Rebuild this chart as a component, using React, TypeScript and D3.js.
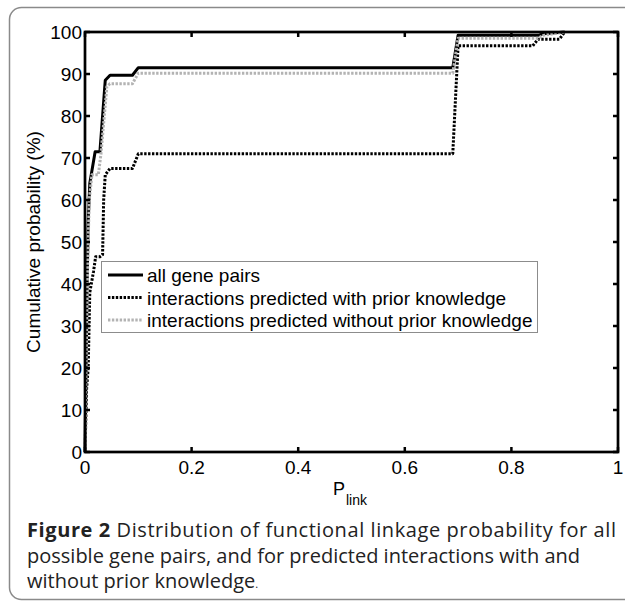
import React from 'react';
import * as d3 from 'd3';

// P_link values and cumulative probability (%)
const allPairsP = [0, 0.002, 0.004, 0.006, 0.009, 0.019, 0.028, 0.038, 0.047, 0.089, 0.1, 0.69, 0.70, 0.85, 0.86, 0.9];
const allPairsCum = [0, 20, 40, 55, 64, 71.5, 71.5, 88.5, 89.7, 89.7, 91.5, 91.5, 99.2, 99.2, 99.6, 100];

const withPriorP = [0, 0.003, 0.006, 0.009, 0.016, 0.02, 0.028, 0.033, 0.035, 0.038, 0.047, 0.089, 0.1, 0.69, 0.70, 0.84, 0.85, 0.89, 0.9];
const withPriorCum = [0, 15, 20, 38, 43, 46.5, 46.5, 47, 60, 66, 67.5, 67.5, 71, 71, 96.7, 96.7, 98.3, 98.3, 100];

const withoutPriorP = [0, 0.002, 0.005, 0.008, 0.013, 0.025, 0.03, 0.041, 0.047, 0.089, 0.1, 0.69, 0.70, 0.85, 0.86, 0.9];
const withoutPriorCum = [0, 20, 45, 60, 66, 66, 71, 87, 87.7, 87.7, 90.2, 90.2, 98.5, 98.5, 99.2, 100];

const seriesNames = ['all gene pairs', 'interactions predicted with prior knowledge', 'interactions predicted without prior knowledge'];
const xTicks = [0, 0.2, 0.4, 0.6, 0.8, 1];
const yTicks = [0, 10, 20, 30, 40, 50, 60, 70, 80, 90, 100];

export default function App() {
    const container = React.useRef<SVGGElement>(null);

    const width = 625;
    const height = 602;
    const left = 85, right = 618, top = 32, bottom = 452;

    React.useEffect(() => {
        if (!container.current) return;
        const g = d3.select(container.current);
        g.selectAll('*').remove();

        const x = d3.scaleLinear().domain([0, 1]).range([left, right]);
        const y = d3.scaleLinear().domain([0, 100]).range([bottom, top]);

        const styles = [
            { color: '#000', dash: null },
            { color: '#000', dash: '2.4 1.5' },
            { color: '#b3b3b3', dash: '2.4 1.5' },
        ];
        const series = [
            d3.zip(allPairsP, allPairsCum),
            d3.zip(withPriorP, withPriorCum),
            d3.zip(withoutPriorP, withoutPriorCum),
        ];

        const line = d3.line<number[]>()
            .x(d => x(d[0]))
            .y(d => y(d[1]));

        series.forEach((s, i) => {
            g.append('path')
                .attr('d', line(s))
                .attr('fill', 'none')
                .attr('stroke', styles[i].color)
                .attr('stroke-width', 3)
                .attr('stroke-dasharray', styles[i].dash)
                .attr('stroke-linejoin', 'round');
        });

        // axes box with inward ticks on all four sides
        const tickLen = 5;
        const axisFont = 'Liberation Sans, Arial, sans-serif';
        xTicks.forEach(t => {
            g.append('line').attr('x1', x(t)).attr('x2', x(t)).attr('y1', bottom).attr('y2', bottom - tickLen)
                .attr('stroke', '#000').attr('stroke-width', 2.5);
            g.append('line').attr('x1', x(t)).attr('x2', x(t)).attr('y1', top).attr('y2', top + tickLen)
                .attr('stroke', '#000').attr('stroke-width', 2.5);
            g.append('text').attr('x', x(t)).attr('y', bottom + 22)
                .attr('text-anchor', 'middle').style('font-family', axisFont).style('font-size', '19px')
                .text(String(t));
        });
        yTicks.forEach(t => {
            g.append('line').attr('x1', left).attr('x2', left + tickLen).attr('y1', y(t)).attr('y2', y(t))
                .attr('stroke', '#000').attr('stroke-width', 2.5);
            g.append('line').attr('x1', right).attr('x2', right - tickLen).attr('y1', y(t)).attr('y2', y(t))
                .attr('stroke', '#000').attr('stroke-width', 2.5);
            g.append('text').attr('x', left - 3).attr('y', y(t) + 7)
                .attr('text-anchor', 'end').style('font-family', axisFont).style('font-size', '19px')
                .text(String(t));
        });
        g.append('rect')
            .attr('x', left).attr('y', top).attr('width', right - left).attr('height', bottom - top)
            .attr('fill', 'none').attr('stroke', '#000').attr('stroke-width', 2.7);

        // axis labels
        g.append('text')
            .attr('transform', `translate(40,242) rotate(-90)`)
            .attr('text-anchor', 'middle').style('font-family', axisFont).style('font-size', '19px')
            .text('Cumulative probability (%)');
        const xl = g.append('text').attr('x', 333).attr('y', 495)
            .style('font-family', axisFont).style('font-size', '18px');
        xl.append('tspan').text('P');
        xl.append('tspan').attr('x', 346).attr('y', 505).style('font-size', '14px').text('link');

        // legend
        const lg = g.append('g');
        lg.append('rect').attr('x', 101.5).attr('y', 261.5).attr('width', 436).attr('height', 71)
            .attr('fill', '#fff').attr('stroke', '#8c8c8c').attr('stroke-width', 1);
        seriesNames.forEach((name, i) => {
            const cy = 275 + i * 22.5;
            lg.append('line').attr('x1', 108).attr('x2', 143).attr('y1', cy).attr('y2', cy)
                .attr('stroke', styles[i].color).attr('stroke-width', 3)
                .attr('stroke-dasharray', styles[i].dash);
            lg.append('text').attr('x', 147).attr('y', cy + 7)
                .style('font-family', axisFont).style('font-size', '19px').text(name);
        });
    }, []);

    const capFont = '"Open Sans", "Noto Sans", sans-serif';
    return <div style={{ position: 'absolute', left: 0, top: 0 }}>
        <svg width={width} height={height} style={{ display: 'block', background: '#fff' }}>
            <rect x={9.5} y={7.5} width={640} height={592} rx={12} fill="#fff" stroke="#8a8a8a" strokeWidth={1.5} />
            <g ref={container} />
            <g style={{ fontFamily: capFont, fontSize: '20px', fill: '#222' }}>
                <text x={27} y={537} textLength={589} lengthAdjust="spacing">
                    <tspan fontWeight="bold">Figure 2</tspan> Distribution of functional linkage probability for all
                </text>
                <text x={27} y={562.5}>possible gene pairs, and for predicted interactions with and</text>
                <text x={27} y={588}>without prior knowledge<tspan fontSize="11px">.</tspan></text>
            </g>
        </svg>
    </div>
}
